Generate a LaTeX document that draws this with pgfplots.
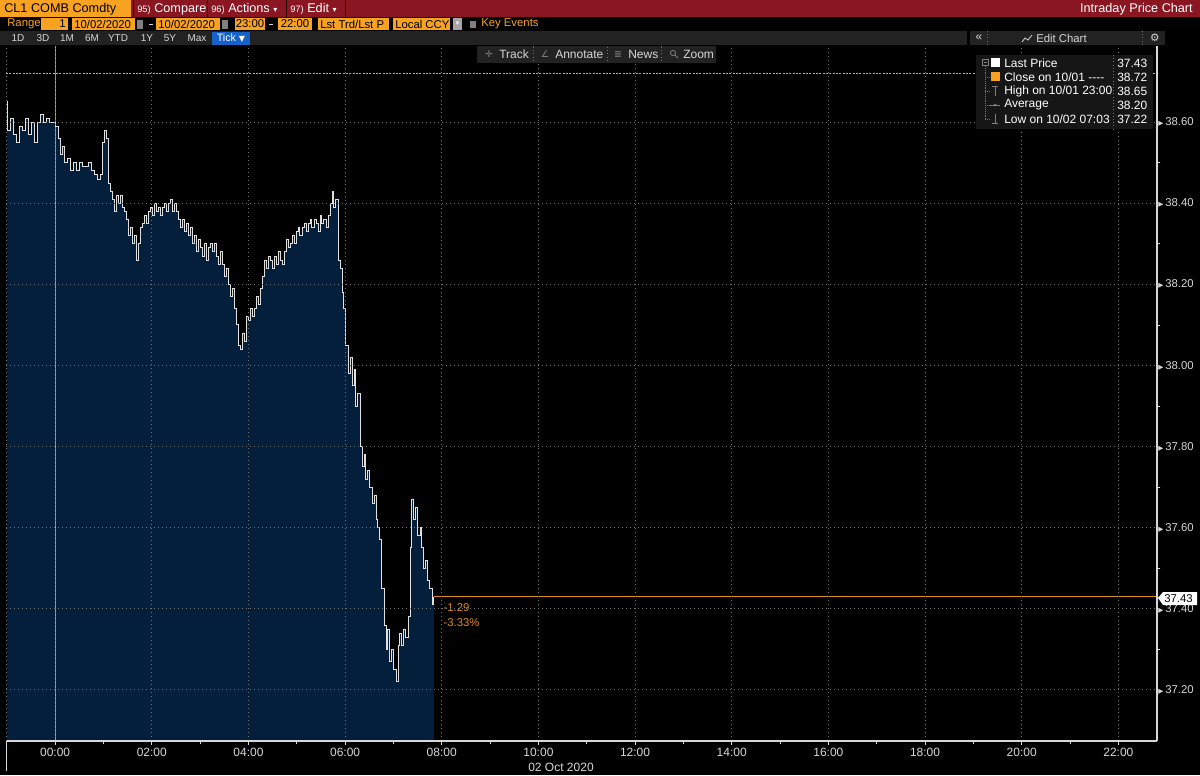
\documentclass[border=0pt]{standalone}
\usepackage{pgfplots}
\pgfplotsset{compat=1.18}
\usepackage{pgfplotstable}
\usepackage{fontspec}
\setmainfont{Liberation Sans}
\newfontfamily\sym{DejaVu Sans}

\definecolor{bbred}{RGB}{138,22,34}
\definecolor{bborange}{RGB}{247,162,32}
\definecolor{bbbar}{RGB}{34,34,34}
\definecolor{bbbox}{RGB}{22,22,22}
\definecolor{bbblue}{RGB}{22,98,200}
\definecolor{bbnavy}{RGB}{4,31,60}
\definecolor{bbgrid}{RGB}{115,115,115}
\definecolor{bbline}{RGB}{222,138,30}
\definecolor{bbtext}{RGB}{215,215,215}

\newcommand{\fs}[1]{\fontsize{#1}{#1}\selectfont}
% one legend row: y position, label, value
\newcommand{\legrow}[3]{%
  \node[anchor=west,inner sep=0,font=\fs{9},text=white] at (1004,#1) {#2};
  \node[anchor=west,inner sep=0,font=\fs{9},text=white] at (1117,#1) {#3};}

% minutes from midnight 02 Oct 2020, price
\pgfplotstableread{
m p
-60 38.65
-59.5 38.58
-55.8 38.61
-52.1 38.57
-48.4 38.55
-44.7 38.59
-41.0 38.58
-37.2 38.61
-33.5 38.57
-29.8 38.60
-26.1 38.55
-22.3 38.60
-18.6 38.62
-14.9 38.60
-11.2 38.61
-7.4 38.60
-3.7 38.60
0 38.59
3.7 38.56
6.2 38.52
8.7 38.54
11.2 38.50
14.9 38.51
18.6 38.48
22.3 38.50
26.1 38.48
29.8 38.50
33.5 38.49
37.2 38.49
41.0 38.50
44.7 38.48
48.4 38.47
52.1 38.46
55.8 38.47
58.3 38.55
60.8 38.58
63.3 38.56
65.8 38.45
68.3 38.43
70.7 38.41
73.2 38.38
75.7 38.42
78.2 38.40
80.7 38.42
83.1 38.39
85.6 38.38
88.1 38.36
90.6 38.32
93.1 38.34
95.6 38.30
98.0 38.32
100.5 38.26
103.0 38.30
105.5 38.34
108.0 38.35
110.4 38.37
112.9 38.35
115.4 38.38
117.9 38.39
120.4 38.37
122.9 38.40
125.3 38.38
127.8 38.39
130.3 38.37
132.8 38.39
135.3 38.40
137.8 38.38
140.2 38.40
142.7 38.41
145.2 38.38
147.7 38.40
150.2 38.38
152.6 38.36
155.1 38.34
157.6 38.36
160.1 38.33
162.6 38.35
165.1 38.32
167.5 38.34
170.0 38.30
172.5 38.32
175.0 38.28
177.5 38.31
179.9 38.29
182.4 38.27
184.9 38.30
187.4 38.26
189.9 38.29
192.4 38.30
194.8 38.28
197.3 38.30
199.8 38.27
202.3 38.25
204.8 38.28
207.2 38.25
209.7 38.22
212.2 38.24
214.7 38.20
217.2 38.17
219.7 38.19
222.1 38.14
224.6 38.10
227.1 38.05
229.6 38.04
232.1 38.08
234.5 38.06
237.0 38.12
239.5 38.11
242.0 38.14
244.5 38.12
247.0 38.14
249.4 38.17
251.9 38.15
254.4 38.19
256.9 38.22
259.4 38.26
261.9 38.24
264.3 38.27
266.8 38.26
269.3 38.24
271.8 38.27
274.3 38.25
276.7 38.28
279.2 38.26
281.7 38.25
284.2 38.28
286.7 38.31
289.2 38.29
291.6 38.30
294.1 38.32
296.6 38.30
299.1 38.33
301.6 38.34
304.0 38.32
306.5 38.34
309.0 38.35
311.5 38.33
314.0 38.35
316.5 38.36
318.9 38.34
321.4 38.36
323.9 38.35
326.4 38.33
328.9 38.37
331.3 38.35
333.8 38.36
336.3 38.34
338.8 38.37
341.3 38.40
343.8 38.43
346.2 38.39
348.7 38.41
351.2 38.26
353.7 38.24
356.2 38.18
358.6 38.14
361.1 38.05
363.6 37.98
366.1 38.02
368.6 37.95
371.1 37.99
373.5 37.90
376.0 37.93
378.5 37.80
381.0 37.75
383.5 37.78
385.9 37.72
388.4 37.74
390.9 37.70
393.4 37.66
395.9 37.68
398.4 37.62
400.8 37.60
403.3 37.57
405.8 37.45
408.3 37.36
410.8 37.30
413.2 37.35
415.7 37.27
418.2 37.30
420.7 37.25
423.2 37.22
425.7 37.31
428.1 37.34
430.6 37.31
433.1 37.35
435.6 37.33
438.1 37.38
440.6 37.55
443.0 37.67
445.5 37.62
448.0 37.65
450.5 37.58
453.0 37.60
455.4 37.55
457.9 37.50
460.4 37.52
462.9 37.47
465.4 37.45
467.9 37.41
470.3 37.43
}\pricedata

\begin{document}
\begin{tikzpicture}
% ---- screen background and header bars (1 px = 0.75pt, y downwards)
\begin{scope}[x=0.75pt,y=-0.75pt]
  \fill[black] (0,0) rectangle (1200,775);
  % row 1
  \fill[bbred] (0,0) rectangle (1200,17);
  \fill[bborange] (0,0) rectangle (131,17);
  \node[anchor=west,inner sep=0,font=\fs{9.5}] at (4,9) {CL1 COMB Comdty};
  \foreach \xx in {133,207,286,345} \draw[black!70!bbred,line width=0.75pt] (\xx,0)--(\xx,17);
  \node[anchor=west,inner sep=0,font=\fs{9.5},text=white] at (137,9) {{\fs{7}95)} Compare};
  \node[anchor=west,inner sep=0,font=\fs{9.5},text=white] at (211,9) {{\fs{7}96)} Actions {\sym\fs{6}▾}};
  \node[anchor=west,inner sep=0,font=\fs{9.5},text=white] at (290,9) {{\fs{7}97)} Edit {\sym\fs{6}▾}};
  \node[anchor=east,inner sep=0,font=\fs{9.5},text=white] at (1193,9) {Intraday Price Chart};
  % row 2
  \node[anchor=west,inner sep=0,font=\fs{8.5},text=bborange] at (7,24) {Range};
  \fill[bborange] (41,18) rectangle (68,30);
  \node[anchor=east,inner sep=0,font=\fs{8.5}] at (66,24) {1};
  \fill[bborange] (72,18) rectangle (135,30);
  \node[anchor=west,inner sep=0,font=\fs{8.5}] at (74,24) {10/02/2020};
  \fill[gray] (137,19.5) rectangle (143,29);
  \draw[bbtext,line width=0.75pt] (149,24)--(153,24);
  \fill[bborange] (156,18) rectangle (220,30);
  \node[anchor=west,inner sep=0,font=\fs{8.5}] at (158,24) {10/02/2020};
  \fill[gray] (222,19.5) rectangle (228,29);
  \fill[bborange] (235,18) rectangle (265,30);
  \node[font=\fs{8.5}] at (250,24) {23:00};
  \draw[bbtext,line width=0.75pt] (269,24)--(273,24);
  \fill[bborange] (278,18) rectangle (312,30);
  \node[font=\fs{8.5}] at (295,24) {22:00};
  \fill[bborange] (318,18) rectangle (389,30);
  \node[anchor=west,inner sep=0,font=\fs{8.5}] at (320,24) {Lst Trd/Lst P};
  \fill[bborange] (393,18) rectangle (450,30);
  \node[anchor=west,inner sep=0,font=\fs{8.5}] at (395,24) {Local CCY};
  \fill[gray!70] (453,18) rectangle (462,30);
  \node[font=\sym\fs{5},text=white] at (457.5,24) {▾};
  \fill[gray] (470,20.5) rectangle (476,27.5);
  \node[anchor=west,inner sep=0,font=\fs{8.5},text=bborange] at (481,24) {Key Events};
  % row 3
  \fill[bbbar] (0,31) rectangle (967,45);
  \foreach \lab/\xx in {1D/18,3D/43,1M/67,6M/92,YTD/118,1Y/147,5Y/170,Max/197}
    \node[font=\fs{7.5},text=bbtext] at (\xx,38) {\lab};
  \fill[bbblue] (212,31.5) rectangle (250,44.5);
  \node[font=\fs{8},text=white] at (231,38) {Tick {\sym\fs{6}▼}};
  \fill[bbbar] (970,31) rectangle (1165,45);
  \node[font=\fs{9},text=bbtext] at (979,37.5) {«};
  \draw[bbtext,line width=0.6pt] (1022,42)--(1025,38)--(1028,40)--(1032,35);
  \node[anchor=west,inner sep=0,font=\fs{8.5},text=bbtext] at (1036,38) {Edit Chart};
  \node[font=\sym\fs{8},text=bbtext] at (1155,38) {⚙};
  \draw[bbgrid,dotted] (987,31)--(987,45) (1142,31)--(1142,45);
\end{scope}

% ---- price chart
\begin{axis}[
  at={(4.5pt,-555.75pt)}, anchor=south west,
  width=863.25pt, height=521.25pt, scale only axis,
  xmin=-61, xmax=1368, ymin=37.074, ymax=38.788,
  axis x line*=bottom, axis y line*=right,
  axis line style={draw=bbtext, line width=0.9pt, -},
  axis on top,
  xtick={0,120,240,360,480,600,720,840,960,1080,1200,1320},
  xticklabels={00:00,02:00,04:00,06:00,08:00,10:00,12:00,14:00,16:00,18:00,20:00,22:00},
  extra x ticks={-60}, extra x tick labels={},
  extra x tick style={grid=major, major tick length=0pt},
  minor x tick num=1,
  ytick={37.2,37.4,37.6,37.8,38.0,38.2,38.4,38.6},
  minor y tick num=1,
  grid=major,
  major grid style={bbgrid, line width=0.75pt, dash pattern=on 0.75pt off 2.25pt},
  tick style={bbtext, line width=0.6pt},
  major tick length=3pt, minor tick length=2.5pt, tick align=outside,
  major y tick style={draw=none},
  xticklabel style={font=\fs{9}, text=bbtext, yshift=1pt},
  yticklabel={{\sym\fs{5}▶}\,\pgfmathprintnumber[fixed,fixed zerofill,precision=2,assume math mode=true]{\tick}},
  yticklabel style={font=\fs{8.5}, text=bbtext, anchor=west, inner sep=0pt, xshift=-2.2pt},
]
  \addplot[fill=bbnavy, draw=none, const plot] table[x=m, y=p] {\pricedata} \closedcycle;
  \addplot[bbgrid!70!white, line width=0.75pt] coordinates {(0,37.0) (0,38.8)};
  % previous close 38.72
  \addplot[color=bborange, solid, line width=1.1pt, dash pattern=on 1.5pt off 1pt] coordinates {(-61,38.72) (1368,38.72)};
  \addplot[bbline, line width=0.75pt] coordinates {(470.3,37.43) (1368,37.43)};
  \addplot[white!88!black, line width=0.75pt, const plot] table[x=m, y=p] {\pricedata};
  \node[anchor=west, inner sep=0, font=\fs{8.5}, text=bbline] at (axis cs:482,37.403) {-1.29};
  \node[anchor=west, inner sep=0, font=\fs{8.5}, text=bbline] at (axis cs:482,37.367) {-3.33\%};
\end{axis}

% ---- overlays: toolbar, legend, price tag
\begin{scope}[x=0.75pt,y=-0.75pt]
  \fill[bbbar] (477,46) rectangle (716,63);
  \node[font=\sym\fs{7},text=gray] at (489,54.5) {✛};
  \node[anchor=west,inner sep=0,font=\fs{9},text=bbtext] at (499,54.5) {Track};
  \node[font=\sym\fs{7},text=gray] at (545,54.5) {∠};
  \node[anchor=west,inner sep=0,font=\fs{9},text=bbtext] at (555,54.5) {Annotate};
  \node[font=\sym\fs{7},text=gray] at (618,54.5) {≣};
  \node[anchor=west,inner sep=0,font=\fs{9},text=bbtext] at (628,54.5) {News};
  \draw[gray,line width=0.6pt] (673,53) circle (2.6) (675,55)--(678,58);
  \node[anchor=west,inner sep=0,font=\fs{9},text=bbtext] at (683,54.5) {Zoom};
  \draw[bbgrid,dotted] (533,47)--(533,62) (607,47)--(607,62) (661,47)--(661,62);
  % legend panel
  \fill[bbbox] (976,55) rectangle (1153,129);
  \draw[bbgrid,dotted] (1113,55)--(1113,129);
  \draw[bbgrid,densely dotted] (985,66)--(985,119)
      (985,77)--(989,77) (985,91)--(989,91) (985,105)--(989,105) (985,119)--(989,119);
  \draw[gray,line width=0.5pt] (982,59.5) rectangle (988,65.5) (983.5,62.5)--(986.5,62.5);
  \fill[white] (991,58) rectangle (1000,67);
  \fill[bborange] (991,72) rectangle (1000,81);
  \draw[gray,line width=0.6pt] (992,86)--(998,86) (995,86)--(995,96)
      (990,105)--(1000,105) (995,114)--(995,123) (992,123)--(998,123);
  \fill[gray] (995,105) circle (1.5);
  \legrow{63}{Last Price}{37.43}
  \legrow{77}{Close on 10/01 -{}-{}-{}-}{38.72}
  \legrow{91}{High on 10/01 23:00}{38.65}
  \legrow{105}{Average}{38.20}
  \legrow{119}{Low on 10/02 07:03}{37.22}
  % last price tag on the right axis
  \fill[white] (1158,598) -- (1163,592) -- (1197,592) -- (1197,605) -- (1163,605) -- cycle;
  \node[anchor=west,inner sep=0,font=\fs{8.5}] at (1164,598.5) {37.43};
  % date under the time axis
  \node[font=\fs{9},text=bbtext] at (561,767) {02 Oct 2020};
  \draw[bbtext,line width=0.75pt] (6,741)--(6,771);
\end{scope}
\pgfresetboundingbox
\path[use as bounding box] (0,0) rectangle (900pt,-581.25pt);
\end{tikzpicture}
\end{document}
